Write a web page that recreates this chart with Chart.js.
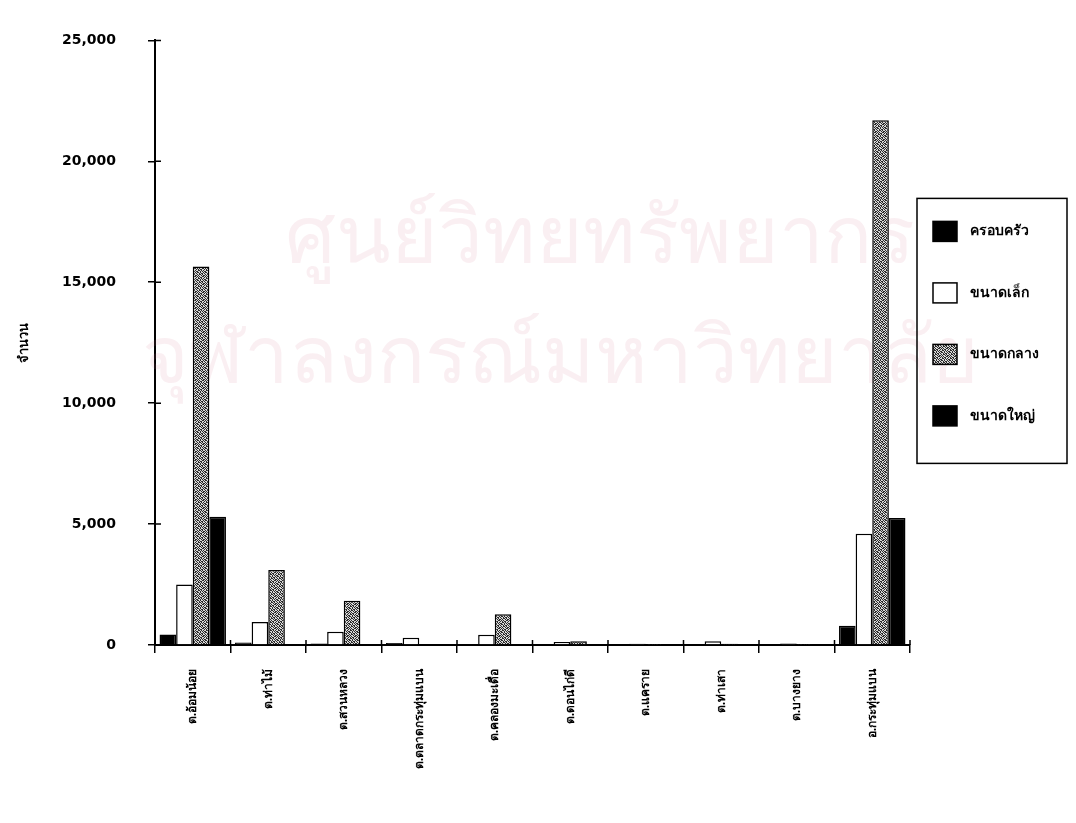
<!DOCTYPE html>
<html>
<head>
<meta charset="utf-8">
<script src="https://cdn.jsdelivr.net/npm/chart.js@4"></script>
<style>
  html, body { margin: 0; padding: 0; background: #fff; }
  #wrap { width: 1076px; height: 823px; }
</style>
</head>
<body>
<div id="wrap"><canvas id="grafico"></canvas></div>
<script>
const categorias = [
    "ต.อ้อมน้อย", "ต.ท่าไม้", "ต.สวนหลวง", "ต.ตลาดกระทุ่มแบน", "ต.คลองมะเดื่อ",
    "ต.ดอนไก่ดี", "ต.แคราย", "ต.ท่าเสา", "ต.บางยาง", "อ.กระทุ่มแบน"
];
const nombresSeries = ["ครอบครัว", "ขนาดเล็ก", "ขนาดกลาง", "ขนาดใหญ่"];
const crobkrua = [430, 100, 60, 80, 40, 30, 30, 40, 30, 800];
const nadLek = [2500, 950, 550, 300, 420, 120, 50, 160, 60, 4600];
const nadKlang = [15650, 3100, 1830, 30, 1270, 150, 20, 50, 20, 21700];
const nadYai = [5300, 0, 0, 0, 0, 0, 0, 0, 0, 5250];
const ticksY = [0, 5000, 10000, 15000, 20000, 25000];
const tituloY = "จำนวน";

const fuente = "'Noto Sans', 'DejaVu Sans', sans-serif";
const fuenteNum = "'DejaVu Sans', sans-serif";

// trama punteada para "ขนาดกลาง"
function crearTrama() {
    const filas = [
        "10010110",
        "01101001",
        "10100101",
        "01011010",
        "00110101",
        "11001010",
        "01010011",
        "10101100"
    ];
    const c = document.createElement('canvas');
    c.width = 8; c.height = 8;
    const ctx = c.getContext('2d');
    ctx.fillStyle = '#d8d8d8';
    ctx.fillRect(0, 0, 8, 8);
    ctx.fillStyle = '#2a2a2a';
    filas.forEach((f, y) => {
        for (let x = 0; x < 8; x++) if (f[x] === '1') ctx.fillRect(x, y, 1, 1);
    });
    return ctx.createPattern(c, 'repeat');
}
const trama = crearTrama();

const marcaAgua = {
    id: 'marcaAgua',
    beforeDatasetsDraw(chart) {
        const ctx = chart.ctx;
        ctx.save();
        ctx.fillStyle = 'rgba(214, 120, 150, 0.12)';
        ctx.textAlign = 'center';
        ctx.textBaseline = 'middle';
        ctx.font = `80px ${fuente}`;
        ctx.fillText("ศูนย์วิทยทรัพยากร", 600, 240);
        ctx.fillText("จุฬาลงกรณ์มหาวิทยาลัย", 560, 360);
        ctx.restore();
    }
};

// marcas cortas hacia dentro de los ejes
const marcasEjes = {
    id: 'marcasEjes',
    afterDraw(chart) {
        const ctx = chart.ctx;
        const { x, y } = chart.scales;
        ctx.save();
        ctx.strokeStyle = '#000';
        ctx.lineWidth = 1.5;
        ctx.beginPath();
        ticksY.forEach(v => {
            const py = y.getPixelForValue(v);
            ctx.moveTo(x.left, py);
            ctx.lineTo(x.left + 6, py);
        });
        for (let i = 0; i <= categorias.length; i++) {
            const px = x.left + (x.right - x.left) * i / categorias.length;
            ctx.moveTo(px, y.bottom);
            ctx.lineTo(px, y.bottom - 5);
        }
        ctx.stroke();
        ctx.restore();
    }
};

const leyendaCaja = {
    id: 'leyendaCaja',
    afterDraw(chart) {
        const ctx = chart.ctx;
        const area = chart.chartArea;
        const left = area.right + 7;
        const top = area.top + 158;
        const w = 150, h = 265;
        ctx.save();
        ctx.strokeStyle = '#000';
        ctx.lineWidth = 1.5;
        ctx.strokeRect(left, top, w, h);
        chart.data.datasets.forEach((ds, i) => {
            const cy = top + 33 + i * 61.5;
            ctx.fillStyle = ds.backgroundColor;
            ctx.fillRect(left + 16, cy - 10, 24, 20);
            ctx.lineWidth = 1.5;
            ctx.strokeStyle = '#000';
            ctx.strokeRect(left + 16, cy - 10, 24, 20);
            ctx.fillStyle = '#000';
            ctx.font = `bold 14px ${fuente}`;
            ctx.textBaseline = 'middle';
            ctx.textAlign = 'left';
            ctx.fillText(ds.label, left + 53, cy);
        });
        ctx.restore();
    }
};

function serie(label, data, fondo) {
    return {
        label,
        data,
        backgroundColor: fondo,
        borderColor: '#000',
        borderWidth: 1.5,
        categoryPercentage: 0.88,
        barPercentage: 1.0
    };
}

new Chart(document.getElementById('grafico'), {
    type: 'bar',
    data: {
        labels: categorias,
        datasets: [
            serie(nombresSeries[0], crobkrua, '#000'),
            serie(nombresSeries[1], nadLek, '#fff'),
            serie(nombresSeries[2], nadKlang, trama),
            serie(nombresSeries[3], nadYai, '#000')
        ]
    },
    options: {
        responsive: true,
        maintainAspectRatio: false,
        animation: false,
        layout: { padding: { top: 24, right: 166, left: 0, bottom: 0 } },
        plugins: {
            legend: { display: false },
            tooltip: { enabled: false }
        },
        scales: {
            x: {
                grid: {
                    drawOnChartArea: false,
                    drawTicks: true,
                    tickLength: 8,
                    color: '#000',
                    lineWidth: 1.5
                },
                border: { display: true, color: '#000', width: 2 },
                ticks: {
                    color: '#000',
                    maxRotation: 90,
                    minRotation: 90,
                    padding: 16,
                    autoSkip: false,
                    font: { family: fuente, size: 12, weight: 'bold' }
                },
                afterFit(scale) { scale.height = 178; }
            },
            y: {
                min: 0,
                max: 25000,
                afterBuildTicks(scale) {
                    scale.ticks = ticksY.map(v => ({ value: v }));
                },
                grid: {
                    drawOnChartArea: false,
                    drawTicks: true,
                    tickLength: 7,
                    color: '#000',
                    lineWidth: 1.5
                },
                border: { display: true, color: '#000', width: 2 },
                ticks: {
                    color: '#000',
                    padding: 32,
                    font: { family: fuenteNum, size: 14, weight: 'bold' },
                    callback: v => v.toLocaleString('en-US')
                },
                title: {
                    display: true,
                    text: tituloY,
                    color: '#000',
                    padding: { top: 16, bottom: 0 },
                    font: { family: fuente, size: 13, weight: 'bold' }
                },
                afterFit(scale) { scale.width = 155; }
            }
        }
    },
    plugins: [marcaAgua, marcasEjes, leyendaCaja]
});
</script>
</body>
</html>
